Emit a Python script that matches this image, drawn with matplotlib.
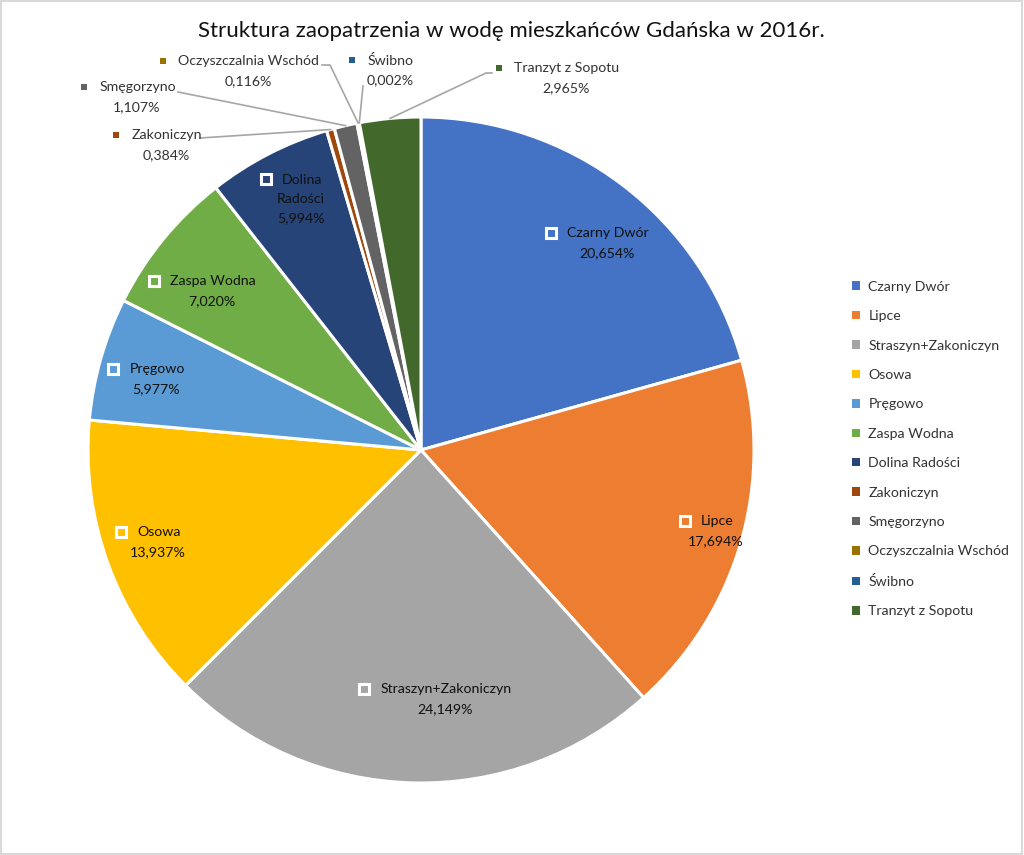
import matplotlib
matplotlib.use("Agg")
import matplotlib.pyplot as plt
from matplotlib.patches import Rectangle
import numpy as np

# ---------------- data ----------------
categories = ["Czarny Dwór", "Lipce", "Straszyn+Zakoniczyn", "Osowa", "Pręgowo",
              "Zaspa Wodna", "Dolina Radości", "Zakoniczyn", "Smęgorzyno",
              "Oczyszczalnia Wschód", "Świbno", "Tranzyt z Sopotu"]
shares = [20.654, 17.694, 24.149, 13.937, 5.977, 7.020, 5.994, 0.384, 1.107,
          0.116, 0.002, 2.965]
colors = ["#4472C4", "#ED7D31", "#A5A5A5", "#FFC000", "#5B9BD5", "#70AD47",
          "#264478", "#9E480E", "#636363", "#997300", "#255E91", "#43682B"]
title = "Struktura zaopatrzenia w wodę mieszkańców Gdańska w 2016r."

# ---------------- layout ----------------
W, H, DPI = 1024, 855, 100
CX, CY, R = 421, 450, 333          # pie centre / radius in pixels
FONT = "Lato"
plt.rcParams["font.family"] = [FONT, "DejaVu Sans"]

# label block centres in pixels (x = centre of percentage line, y = middle of block)
inside_pos = {"Czarny Dwór": (607, 243), "Lipce": (716, 531),
              "Straszyn+Zakoniczyn": (445, 699), "Osowa": (158, 542),
              "Pręgowo": (156, 379), "Zaspa Wodna": (212, 291),
              "Dolina Radości": (301, 199)}
outside_pos = {"Zakoniczyn": (166, 145), "Smęgorzyno": (137, 97),
               "Oczyszczalnia Wschód": (248, 71), "Świbno": (390, 70),
               "Tranzyt z Sopotu": (566, 78)}
leader_start = {"Zakoniczyn": [(200, 138)], "Smęgorzyno": [(178, 92)],
                "Oczyszczalnia Wschód": [(322, 65), (330, 65)],
                "Świbno": [(363, 86)], "Tranzyt z Sopotu": [(492, 73), (486, 73)]}
wrap = {"Dolina Radości": ["Dolina", "Radości"]}

fig = plt.figure(figsize=(W / DPI, H / DPI), dpi=DPI)
ax = fig.add_axes([(CX - R) / W, 1 - (CY + R) / H, 2 * R / W, 2 * R / H])
ax.set_xlim(-1, 1)
ax.set_ylim(-1, 1)
ax.set_aspect("equal")
ax.axis("off")

wedges, _ = ax.pie(shares, colors=colors, startangle=90, counterclock=False,
                   radius=1, center=(0, 0), frame=False,
                   wedgeprops=dict(edgecolor="white", linewidth=2.2))
ax.set_xlim(-1, 1)
ax.set_ylim(-1, 1)


def px2d(x, y):
    return (x - CX) / R, (CY - y) / R


def fmt(v):
    return f"{v:.3f}".replace(".", ",") + "%"


renderer = fig.canvas.get_renderer()
LINE = 19.5
FS = 10.2


def block(name, value, centre, inside, color):
    lines = wrap.get(name, [name]) if inside else [name]
    lines = lines + [fmt(value)]
    n = len(lines)
    cx, cy = centre
    tcolor = "#111111" if inside else "#333333"
    sq_w = 10 if inside else 7
    gap = 11 if inside else 12
    for i, ln in enumerate(lines):
        y = cy + (i - (n - 1) / 2) * LINE
        if i == 0:
            t = ax.text(*px2d(cx, y), ln, ha="left", va="center", fontsize=FS,
                        color=tcolor)
            bb = t.get_window_extent(renderer)
            tw = bb.width
            total = sq_w / 2 + gap + tw
            left = cx - 7 - total / 2
            t.set_position(px2d(left + sq_w / 2 + gap, y))
            if inside:
                ax.plot(*px2d(left, y), marker="s", ms=6.6, mfc=color,
                        mec="white", mew=2.2, zorder=5, clip_on=False)
            else:
                ax.plot(*px2d(left, y), marker="s", ms=5.0, mfc=color,
                        mec=color, mew=0, zorder=5, clip_on=False)
        else:
            ax.text(*px2d(cx, y), ln, ha="center", va="center", fontsize=FS,
                    color=tcolor)


cum = 0.0
total_share = sum(shares)
for name, v, c in zip(categories, shares, colors):
    mid = 90 - (cum + v / 2) / total_share * 360
    cum += v
    if name in inside_pos:
        block(name, v, inside_pos[name], True, c)
    else:
        block(name, v, outside_pos[name], False, c)
        pts = [px2d(*p) for p in leader_start[name]]
        a = np.deg2rad(mid)
        pts.append((np.cos(a) * 1.0, np.sin(a) * 1.0))
        xs, ys = zip(*pts)
        ax.plot(xs, ys, color="#a6a6a6", lw=1.2, zorder=1, clip_on=False)

fig.text(511 / W, 1 - 31 / H, title, ha="center", va="center", fontsize=16,
         color="#111111")

handles = [Rectangle((0, 0), 1, 1, facecolor=c, edgecolor="none") for c in colors]
fig.legend(handles, categories, loc="center left",
           bbox_to_anchor=(852 / W, 1 - 449 / H), frameon=False, fontsize=FS,
           handlelength=0.55, handleheight=0.55, handletextpad=0.6,
           labelspacing=1.23, borderpad=0, borderaxespad=0,
           labelcolor="#333333")

fig.patches.append(Rectangle((0.0005, 0.0008), 0.998, 0.998, transform=fig.transFigure,
                             fill=False, edgecolor="#d9d9d9", lw=1.5))
fig.savefig("out.png", dpi=DPI)
